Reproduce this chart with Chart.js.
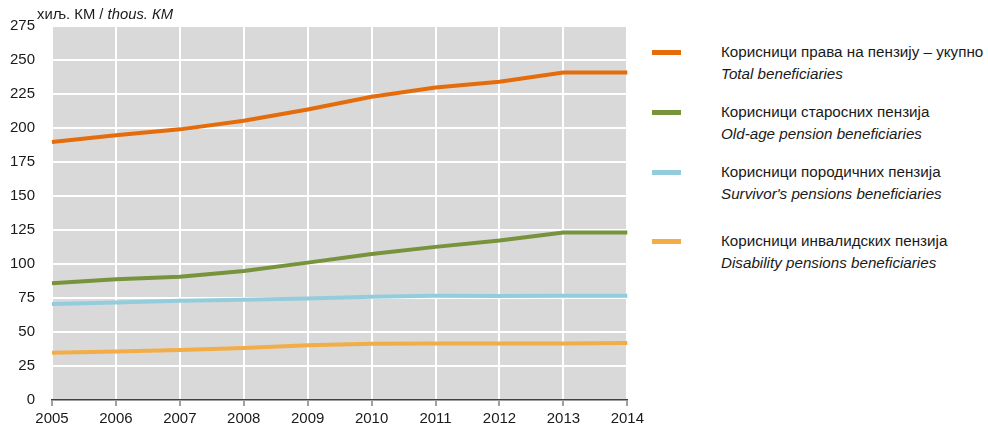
<!DOCTYPE html>
<html>
<head>
<meta charset="utf-8">
<script src="https://cdn.jsdelivr.net/npm/chart.js@4"></script>
<style>
    body { margin: 0; background: #fff; font-family: "Liberation Sans", Arial, sans-serif; color: #1a1a1a; overflow: hidden; }
    #wrap { position: relative; width: 988px; height: 430px; }
    #chart-box { position: absolute; left: 0; top: 0; width: 648px; height: 432px; }
    #unit { position: absolute; left: 37px; top: 6px; font-size: 14.8px; }
    #legend { position: absolute; left: 652px; top: 0; }
    .leg-item { position: absolute; left: 0; width: 340px; }
    .leg-item .sw { position: absolute; left: 0; top: 9px; width: 29px; height: 5px; }
    .leg-item .txt { position: absolute; left: 69px; top: 0; font-size: 15.2px; line-height: 22px; white-space: nowrap; }
    .leg-item .txt i { display: block; }
</style>
</head>
<body>
<div id="wrap">
    <div id="chart-box"><canvas id="chartCanvas"></canvas></div>
    <div id="unit">хиљ. КМ / <i>thous. КМ</i></div>
    <div id="legend"></div>
</div>
<script>
const years = ["2005", "2006", "2007", "2008", "2009", "2010", "2011", "2012", "2013", "2014"];
const totalValues = [189.7, 194.7, 199, 205.3, 213.6, 223, 229.7, 234, 240.8, 240.8];
const oldAgeValues = [85.8, 88.7, 90.7, 94.9, 101, 107.4, 112.6, 117.3, 123.2, 123.2];
const survivorValues = [70.5, 71.7, 73, 73.7, 74.7, 75.9, 76.6, 76.4, 76.6, 76.6];
const disabilityValues = [34.7, 35.7, 36.7, 38.2, 40.2, 41.4, 41.6, 41.6, 41.6, 41.9];
const seriesNames = [
    ["Корисници права на пензију – укупно", "Total beneficiaries"],
    ["Корисници старосних пензија", "Old-age pension beneficiaries"],
    ["Корисници породичних пензија", "Survivor's pensions beneficiaries"],
    ["Корисници инвалидских пензија", "Disability pensions beneficiaries"]
];
const seriesColors = ["#e46c0a", "#77933c", "#93cddd", "#f2ad46"];
const legendTops = [41, 101, 161, 230];

document.addEventListener("DOMContentLoaded", function () {
    const legend = document.getElementById("legend");
    seriesNames.forEach(function (name, i) {
        const item = document.createElement("div");
        item.className = "leg-item";
        item.style.top = legendTops[i] + "px";
        item.innerHTML = `
            <div class="sw" style="background:${seriesColors[i]}"></div>
            <div class="txt">${name[0]}<i>${name[1]}</i></div>
        `;
        legend.appendChild(item);
    });

    // grey plot background
    const plotBg = {
        id: "plotBg",
        beforeDraw(chart) {
            const a = chart.chartArea;
            const c = chart.ctx;
            c.save();
            c.fillStyle = "#d9d9d9";
            c.fillRect(a.left, a.top, a.right - a.left, a.bottom - a.top);
            c.restore();
        }
    };

    const allValues = [totalValues, oldAgeValues, survivorValues, disabilityValues];

    const ctx = document.getElementById("chartCanvas").getContext("2d");
    new Chart(ctx, {
        type: "line",
        data: {
            labels: years,
            datasets: allValues.map((vals, i) => ({
                label: seriesNames[i][0],
                data: vals,
                borderColor: seriesColors[i],
                borderWidth: 4,
                pointRadius: 0,
                tension: 0,
                fill: false
            }))
        },
        options: {
            responsive: true,
            maintainAspectRatio: false,
            animation: false,
            layout: { padding: { left: 0, top: 25, right: 0, bottom: 0 } },
            plugins: { legend: { display: false }, tooltip: { enabled: false } },
            scales: {
                x: {
                    offset: false,
                    grid: { color: "#ffffff", lineWidth: 2, tickColor: "#404040", tickLength: 6, tickWidth: 1 },
                    border: { display: true, color: "#404040", width: 1.5 },
                    ticks: { color: "#1a1a1a", font: { family: "Liberation Sans", size: 15 }, padding: 4, maxRotation: 0 }
                },
                y: {
                    min: 0,
                    max: 275,
                    afterFit(scale) { scale.width = 52; },
                    grid: { color: "#ffffff", lineWidth: 2, drawTicks: false },
                    border: { display: false },
                    ticks: { stepSize: 25, color: "#1a1a1a", font: { family: "Liberation Sans", size: 15 }, padding: 17 }
                }
            }
        },
        plugins: [plotBg]
    });
});
</script>
</body>
</html>
